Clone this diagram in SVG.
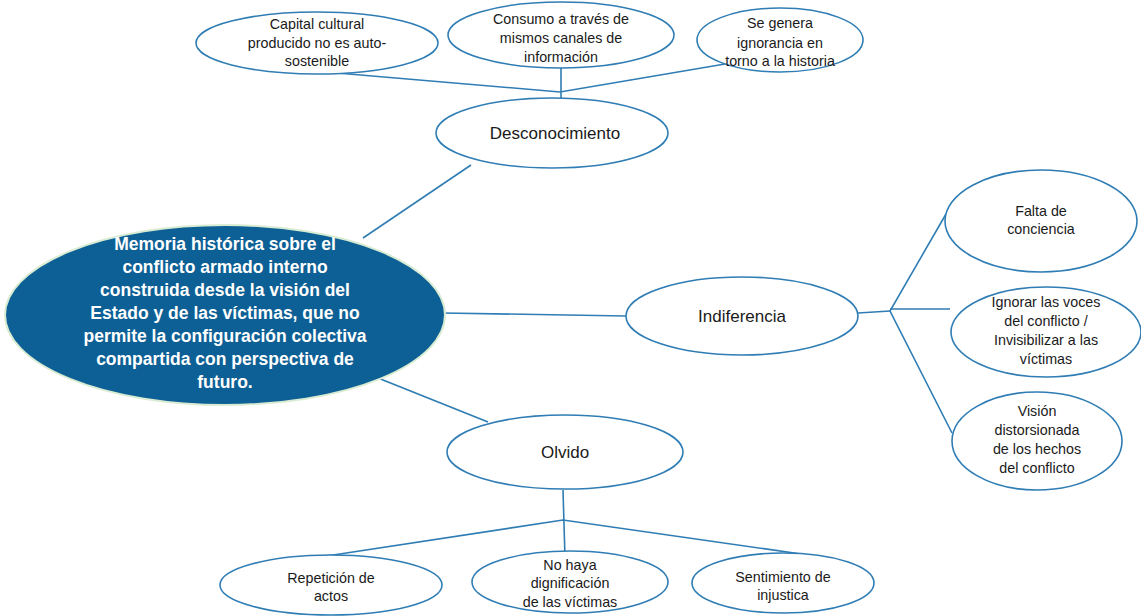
<svg xmlns="http://www.w3.org/2000/svg" width="1141" height="616" viewBox="0 0 1141 616">
  <style>
    .node { fill: #ffffff; stroke: #2f7db4; stroke-width: 1.6; }
    .root { fill: #0d6095; stroke: #d9ecd3; stroke-width: 2; }
    .link { fill: none; stroke: #2f7db4; stroke-width: 1.6; }
    .t { font-family: "Liberation Sans", Arial, sans-serif; font-size: 14.3px; fill: #1a1a1a; text-anchor: middle; }
    .t2 { font-family: "Liberation Sans", Arial, sans-serif; font-size: 17px; fill: #1a1a1a; text-anchor: middle; }
    .tr { font-family: "Liberation Sans", Arial, sans-serif; font-size: 17.5px; font-weight: bold; fill: #ffffff; text-anchor: middle; }
  </style>
  <rect width="1141" height="616" fill="#ffffff"/>

  <!-- connectors -->
  <g id="connectors">
    <polyline class="link" points="337,73 560,92 725,64"/>
    <line class="link" x1="561" y1="68" x2="561" y2="98"/>
    <line class="link" x1="471" y1="165" x2="363" y2="238"/>
    <line class="link" x1="443" y1="313" x2="626" y2="316"/>
    <line class="link" x1="858" y1="313" x2="890" y2="311"/>
    <polyline class="link" points="946,214 890,311 952,433"/>
    <line class="link" x1="890" y1="309" x2="950" y2="309"/>
    <line class="link" x1="378" y1="378" x2="488" y2="422"/>
    <line class="link" x1="563" y1="490" x2="565" y2="558"/>
    <polyline class="link" points="320,557 563,520 808,555"/>
  </g>

  <g id="capital">
    <ellipse class="node" cx="317" cy="43" rx="121" ry="31"/>
    <text class="t" x="317" y="29">Capital cultural</text>
    <text class="t" x="317" y="48">producido no es auto-</text>
    <text class="t" x="317" y="66">sostenible</text>
  </g>
  <g id="consumo">
    <ellipse class="node" cx="561" cy="35" rx="113" ry="33"/>
    <text class="t" x="561" y="24">Consumo a través de</text>
    <text class="t" x="561" y="43">mismos canales de</text>
    <text class="t" x="561" y="62">información</text>
  </g>
  <g id="ignorancia">
    <ellipse class="node" cx="780" cy="40" rx="83" ry="32"/>
    <text class="t" x="780" y="28">Se genera</text>
    <text class="t" x="780" y="48">ignorancia en</text>
    <text class="t" x="780" y="66">torno a la historia</text>
  </g>
  <g id="desconocimiento">
    <ellipse class="node" cx="552" cy="133" rx="116" ry="35"/>
    <text class="t2" x="555" y="139">Desconocimiento</text>
  </g>

  <g id="memoria">
    <ellipse class="root" cx="225" cy="315" rx="220" ry="90"/>
    <text class="tr" x="225" y="250">Memoria histórica sobre el</text>
    <text class="tr" x="225" y="273">conflicto armado interno</text>
    <text class="tr" x="225" y="296">construida desde la visión del</text>
    <text class="tr" x="225" y="319">Estado y de las víctimas, que no</text>
    <text class="tr" x="225" y="342">permite la configuración colectiva</text>
    <text class="tr" x="225" y="365">compartida con perspectiva de</text>
    <text class="tr" x="225" y="388">futuro.</text>
  </g>

  <g id="indiferencia">
    <ellipse class="node" cx="742" cy="316" rx="116" ry="39"/>
    <text class="t2" x="742" y="322">Indiferencia</text>
  </g>
  <g id="falta">
    <ellipse class="node" cx="1041" cy="221" rx="96" ry="51"/>
    <text class="t" x="1041" y="216">Falta de</text>
    <text class="t" x="1041" y="234">conciencia</text>
  </g>
  <g id="ignorar">
    <ellipse class="node" cx="1046" cy="332" rx="95" ry="45"/>
    <text class="t" x="1046" y="307">Ignorar las voces</text>
    <text class="t" x="1046" y="326">del conflicto /</text>
    <text class="t" x="1046" y="345">Invisibilizar a las</text>
    <text class="t" x="1046" y="364">víctimas</text>
  </g>
  <g id="vision">
    <ellipse class="node" cx="1037" cy="441" rx="85" ry="49"/>
    <text class="t" x="1037" y="416">Visión</text>
    <text class="t" x="1037" y="435">distorsionada</text>
    <text class="t" x="1037" y="454">de los hechos</text>
    <text class="t" x="1037" y="473">del conflicto</text>
  </g>

  <g id="olvido">
    <ellipse class="node" cx="565" cy="452" rx="118" ry="37"/>
    <text class="t2" x="565" y="458">Olvido</text>
  </g>
  <g id="repeticion">
    <ellipse class="node" cx="331" cy="585" rx="111" ry="30"/>
    <text class="t" x="331" y="583">Repetición de</text>
    <text class="t" x="331" y="601">actos</text>
  </g>
  <g id="dignificacion">
    <ellipse class="node" cx="570" cy="582" rx="98" ry="31"/>
    <text class="t" x="570" y="570">No haya</text>
    <text class="t" x="570" y="588">dignificación</text>
    <text class="t" x="570" y="607">de las víctimas</text>
  </g>
  <g id="injusticia">
    <ellipse class="node" cx="783" cy="583" rx="91" ry="30"/>
    <text class="t" x="783" y="582">Sentimiento de</text>
    <text class="t" x="783" y="600">injustica</text>
  </g>
</svg>
